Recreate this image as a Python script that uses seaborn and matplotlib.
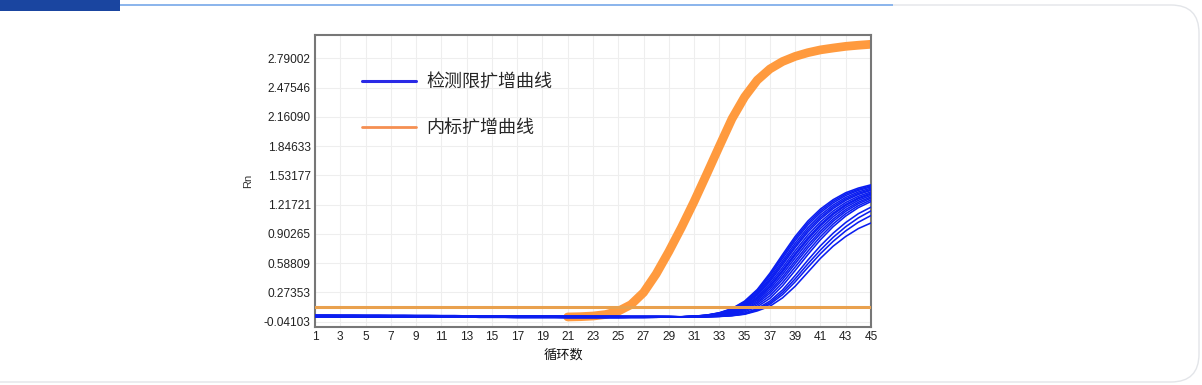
import numpy as np
import pandas as pd
import matplotlib
matplotlib.use("Agg")
import matplotlib.pyplot as plt
import seaborn as sns
from matplotlib.lines import Line2D
from matplotlib.patches import Rectangle, FancyBboxPatch
from matplotlib.transforms import IdentityTransform

# ---- data ----
cycles = list(range(1, 46))

# flat baselines of the detection-limit curves, cycles 1-29 (band is ~3px thick)
base_hi = [0.028, 0.028, 0.027, 0.027, 0.026, 0.026, 0.025, 0.025, 0.024, 0.024,
           0.023, 0.023, 0.022, 0.022, 0.021, 0.021, 0.020, 0.020, 0.019, 0.019,
           0.018, 0.018, 0.017, 0.017, 0.017, 0.016, 0.016, 0.016, 0.015]
base_mid = [0.020, 0.020, 0.019, 0.019, 0.018, 0.018, 0.017, 0.017, 0.016, 0.016,
            0.015, 0.015, 0.014, 0.014, 0.013, 0.013, 0.012, 0.012, 0.011, 0.011,
            0.010, 0.010, 0.010, 0.009, 0.009, 0.009, 0.009, 0.009, 0.010]
base_lo = [0.013, 0.013, 0.012, 0.012, 0.011, 0.011, 0.010, 0.010, 0.009, 0.009,
           0.008, 0.008, 0.008, 0.007, 0.007, 0.007, 0.006, 0.006, 0.006, 0.006,
           0.005, 0.005, 0.005, 0.005, 0.005, 0.006, 0.006, 0.007, 0.008]

# cycles 30-45 of each detection-limit replicate: (baseline, tail)
blue_tails = {
    "M1": ("hi", [0.012, 0.018, 0.030, 0.055, 0.100, 0.180, 0.305, 0.480, 0.680, 0.875, 1.040, 1.170, 1.270, 1.345, 1.395, 1.430]),
    "M2": ("mid", [0.012, 0.018, 0.029, 0.053, 0.096, 0.173, 0.294, 0.464, 0.660, 0.853, 1.018, 1.150, 1.253, 1.330, 1.382, 1.419]),
    "M3": ("lo", [0.012, 0.017, 0.028, 0.051, 0.092, 0.166, 0.283, 0.448, 0.640, 0.831, 0.997, 1.130, 1.235, 1.315, 1.370, 1.408]),
    "M4": ("hi", [0.011, 0.017, 0.027, 0.048, 0.087, 0.157, 0.268, 0.426, 0.613, 0.802, 0.968, 1.104, 1.212, 1.295, 1.353, 1.394]),
    "M5": ("mid", [0.011, 0.016, 0.026, 0.046, 0.083, 0.149, 0.255, 0.407, 0.590, 0.776, 0.943, 1.081, 1.192, 1.278, 1.338, 1.381]),
    "M6": ("lo", [0.011, 0.016, 0.025, 0.044, 0.079, 0.142, 0.244, 0.391, 0.569, 0.755, 0.921, 1.061, 1.174, 1.263, 1.326, 1.371]),
    "M7": ("hi", [0.011, 0.015, 0.023, 0.041, 0.073, 0.131, 0.227, 0.367, 0.539, 0.722, 0.889, 1.031, 1.148, 1.240, 1.307, 1.354]),
    "M8": ("mid", [0.011, 0.015, 0.022, 0.038, 0.068, 0.122, 0.213, 0.345, 0.513, 0.693, 0.860, 1.005, 1.125, 1.220, 1.290, 1.340]),
    "M9": ("lo", [0.010, 0.014, 0.021, 0.036, 0.065, 0.116, 0.203, 0.332, 0.496, 0.674, 0.842, 0.989, 1.111, 1.208, 1.280, 1.331]),
    "M10": ("hi", [0.010, 0.014, 0.020, 0.034, 0.060, 0.107, 0.188, 0.310, 0.469, 0.645, 0.813, 0.962, 1.087, 1.188, 1.263, 1.317]),
    "M11": ("mid", [0.010, 0.013, 0.018, 0.031, 0.054, 0.096, 0.172, 0.286, 0.439, 0.612, 0.781, 0.932, 1.061, 1.165, 1.244, 1.300]),
    "M12": ("lo", [0.010, 0.012, 0.017, 0.028, 0.049, 0.087, 0.157, 0.264, 0.412, 0.583, 0.752, 0.906, 1.038, 1.145, 1.227, 1.286]),
    "M13": ("mid", [0.009, 0.012, 0.016, 0.024, 0.042, 0.076, 0.139, 0.237, 0.379, 0.547, 0.716, 0.873, 1.009, 1.120, 1.206, 1.268]),
    "M14": ("lo", [0.009, 0.011, 0.014, 0.021, 0.036, 0.064, 0.120, 0.210, 0.345, 0.510, 0.680, 0.840, 0.980, 1.095, 1.185, 1.250]),
    "B1": ("mid", [0.008, 0.010, 0.013, 0.018, 0.029, 0.050, 0.100, 0.180, 0.300, 0.455, 0.620, 0.775, 0.910, 1.025, 1.120, 1.190]),
    "B2": ("lo", [0.008, 0.010, 0.013, 0.017, 0.027, 0.046, 0.092, 0.162, 0.274, 0.420, 0.580, 0.730, 0.865, 0.980, 1.075, 1.150]),
    "B3": ("mid", [0.008, 0.009, 0.012, 0.016, 0.025, 0.042, 0.084, 0.146, 0.250, 0.388, 0.542, 0.690, 0.822, 0.935, 1.028, 1.100]),
    "B4": ("lo", [0.007, 0.009, 0.011, 0.015, 0.023, 0.039, 0.075, 0.125, 0.215, 0.340, 0.490, 0.640, 0.770, 0.875, 0.960, 1.020]),
}

# internal control curve (the part that leaves the baseline), cycles 21-45
orange_cycles = list(range(21, 46))
orange_rn = [0.010, 0.013, 0.020, 0.036, 0.072, 0.142, 0.272, 0.472, 0.712, 0.972,
             1.250, 1.545, 1.845, 2.140, 2.375, 2.555, 2.675, 2.755, 2.810, 2.850,
             2.880, 2.900, 2.918, 2.930, 2.940]

threshold = 0.12

ytick_vals = [-0.04103, 0.27353, 0.58809, 0.90265, 1.21721, 1.53177, 1.84633, 2.16090, 2.47546, 2.79002]
ytick_labels = ["-0.04103", "0.27353", "0.58809", "0.90265", "1.21721",
                "1.53177", "1.84633", "2.16090", "2.47546", "2.79002"]
xtick_vals = list(range(1, 46, 2))

legend_labels = ["检测限扩增曲线", "内标扩增曲线"]

# ---- long-form tables ----
bases = {"hi": base_hi, "mid": base_mid, "lo": base_lo}
rows = []
for name, (b, tail) in blue_tails.items():
    for c, v in zip(cycles, bases[b] + tail):
        rows.append((name, c, v))
df_blue = pd.DataFrame(rows, columns=["curve", "cycle", "rn"])
df_orange = pd.DataFrame({"cycle": orange_cycles, "rn": orange_rn})

sns.set_theme(style="white")
plt.rcParams["font.family"] = ["Liberation Sans", "Noto Sans CJK SC", "DejaVu Sans"]

fig = plt.figure(figsize=(12.02, 3.85), dpi=100)
fig.patch.set_facecolor("white")

# page decoration: card border and top bar (behind the axes)
pix = IdentityTransform()
card = FancyBboxPatch((-40, 3), 1239, 377, boxstyle="round,pad=0,rounding_size=28",
                      transform=pix, facecolor="white", edgecolor="#e3e5e9", lw=1.0,
                      zorder=-10)
fig.patches.append(card)
fig.patches.append(Rectangle((120, 379.3), 773, 1.4, transform=pix, facecolor="#8db6ec",
                             edgecolor="none", zorder=-5))
fig.patches.append(Rectangle((0, 374), 120, 11, transform=pix, facecolor="#1a45a0",
                             edgecolor="none", zorder=-5))

ax = fig.add_axes([315 / 1202, 1 - 327 / 385, 556 / 1202, 292 / 385])
ax.set_facecolor("white")

sns.lineplot(data=df_orange, x="cycle", y="rn", ax=ax, color="#ff9a3e", lw=6.3,
             solid_capstyle="round", zorder=2)
sns.lineplot(data=df_blue, x="cycle", y="rn", units="curve", estimator=None, ax=ax,
             color="#0b1ef0", lw=1.15, zorder=3)
ax.axhline(threshold, color="#e9a14e", lw=2.2, zorder=4)

ax.set_xlim(1, 45)
ax.set_ylim(-0.098, 3.04)
ax.set_xticks(xtick_vals)
ax.set_xticklabels([str(v) for v in xtick_vals])
ax.set_yticks(ytick_vals)
ax.set_yticklabels(ytick_labels)
ax.tick_params(axis="both", length=0, labelsize=8.6, colors="#222222", pad=3)
ax.grid(True, color="#eeeeee", lw=0.8)
ax.set_axisbelow(True)
for s in ax.spines.values():
    s.set_color("#777777")
    s.set_linewidth(1.5)

ax.set_xlabel("循环数", fontsize=9.5, color="#111111", labelpad=0)
ax.xaxis.set_label_coords(0.446, -0.075)
ax.set_ylabel("Rn", fontsize=8, color="#333333", labelpad=8)

handles = [Line2D([], [], color="#2a2ae6", lw=2.2),
           Line2D([], [], color="#f58f52", lw=2.0)]
ax.legend(handles, legend_labels, loc="upper left", bbox_to_anchor=(0.085, 0.87),
          frameon=False, handlelength=3.0, handletextpad=0.55,
          labelspacing=1.55, borderpad=0, borderaxespad=0,
          prop={"family": ["Noto Sans CJK SC"], "size": 13})

fig.savefig("out.png", dpi=100)
